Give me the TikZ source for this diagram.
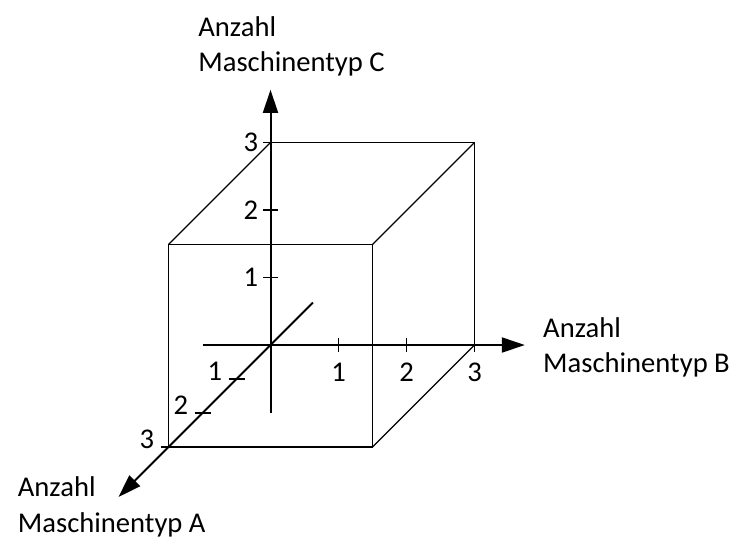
\documentclass[tikz,border=0pt]{standalone}
\usepackage{fontspec}
\setmainfont{Carlito}
\usetikzlibrary{arrows.meta}

\begin{document}
\begin{tikzpicture}[
  x={(34pt,0pt)}, y={(0pt,33.75pt)}, z={(-17pt,-17pt)},
  axis/.style={line width=1pt, -{Triangle[length=11.5pt,width=7.5pt]}},
  edge/.style={line width=0.65pt},
  tickmark/.style={line width=0.65pt},
  num/.style={inner sep=0pt, font=\fontsize{14.3}{17.5}\selectfont},
  title/.style={num, align=left, anchor=base west}
]
\useasboundingbox (-135.25pt,-96.5pt) rectangle (230.25pt,172.5pt);

% axis ends
\coordinate (O) at (0,0,0);
\coordinate (Bstart) at (-1,0,0);
\coordinate (Bend) at (3.74,0,0);
\coordinate (Cstart) at (0,-1,0);
\coordinate (Cend) at (0,3.78,0);
\coordinate (Astart) at (0,0,-1.25);
\coordinate (Aend) at (0,0,4.47);

% cube corners
\coordinate (c000) at (0,0,0);
\coordinate (c300) at (3,0,0);
\coordinate (c030) at (0,3,0);
\coordinate (c330) at (3,3,0);
\coordinate (c003) at (0,0,3);
\coordinate (c303) at (3,0,3);
\coordinate (c033) at (0,3,3);
\coordinate (c333) at (3,3,3);

% cube
\draw[edge] (c030) -- (c330) -- (c300);
\draw[edge] (c030) -- (c033);
\draw[edge] (c330) -- (c333);
\draw[edge] (c300) -- (c303);
\draw[edge] (c003) -- (c303) -- (c333) -- (c033) -- cycle;

% axes
\draw[axis] (Bstart) -- (Bend);
\draw[axis] (Cstart) -- (Cend);
\draw[axis] (Astart) -- (Aend);

% ticks and numbers
\foreach \i in {1,2,3} {
  \coordinate (tB\i) at (\i,0,0);
  \coordinate (tC\i) at (0,\i,0);
  \coordinate (tA\i) at (0,0,\i);
  \draw[tickmark] ([yshift=-3.5pt]tB\i) -- ([yshift=3.5pt]tB\i);
  \draw[tickmark] ([xshift=-3.75pt]tC\i) -- ([xshift=3.75pt]tC\i);
  \draw[tickmark] ([xshift=-4pt]tA\i) -- ([xshift=4pt]tA\i);
  \node[num, anchor=north] (nB\i) at ([yshift=-9pt]tB\i) {\i};
  \node[num, anchor=east] (nC\i) at ([xshift=-6pt]tC\i) {\i};
  \node[num, anchor=base east] (nA\i) at ([xshift=-7pt,yshift=-0.5pt]tA\i) {\i};
}

% axis titles
\node[title] (labC) at ([xshift=-36.25pt,yshift=9pt]Cend) {Anzahl\\Maschinentyp C};
\node[title] (labB) at ([xshift=9pt,yshift=-13.5pt]Bend) {Anzahl\\Maschinentyp B};
\node[title] (labA) at ([xshift=-50.5pt,yshift=-17.5pt]Aend) {Anzahl\\Maschinentyp A};
\end{tikzpicture}
\end{document}
